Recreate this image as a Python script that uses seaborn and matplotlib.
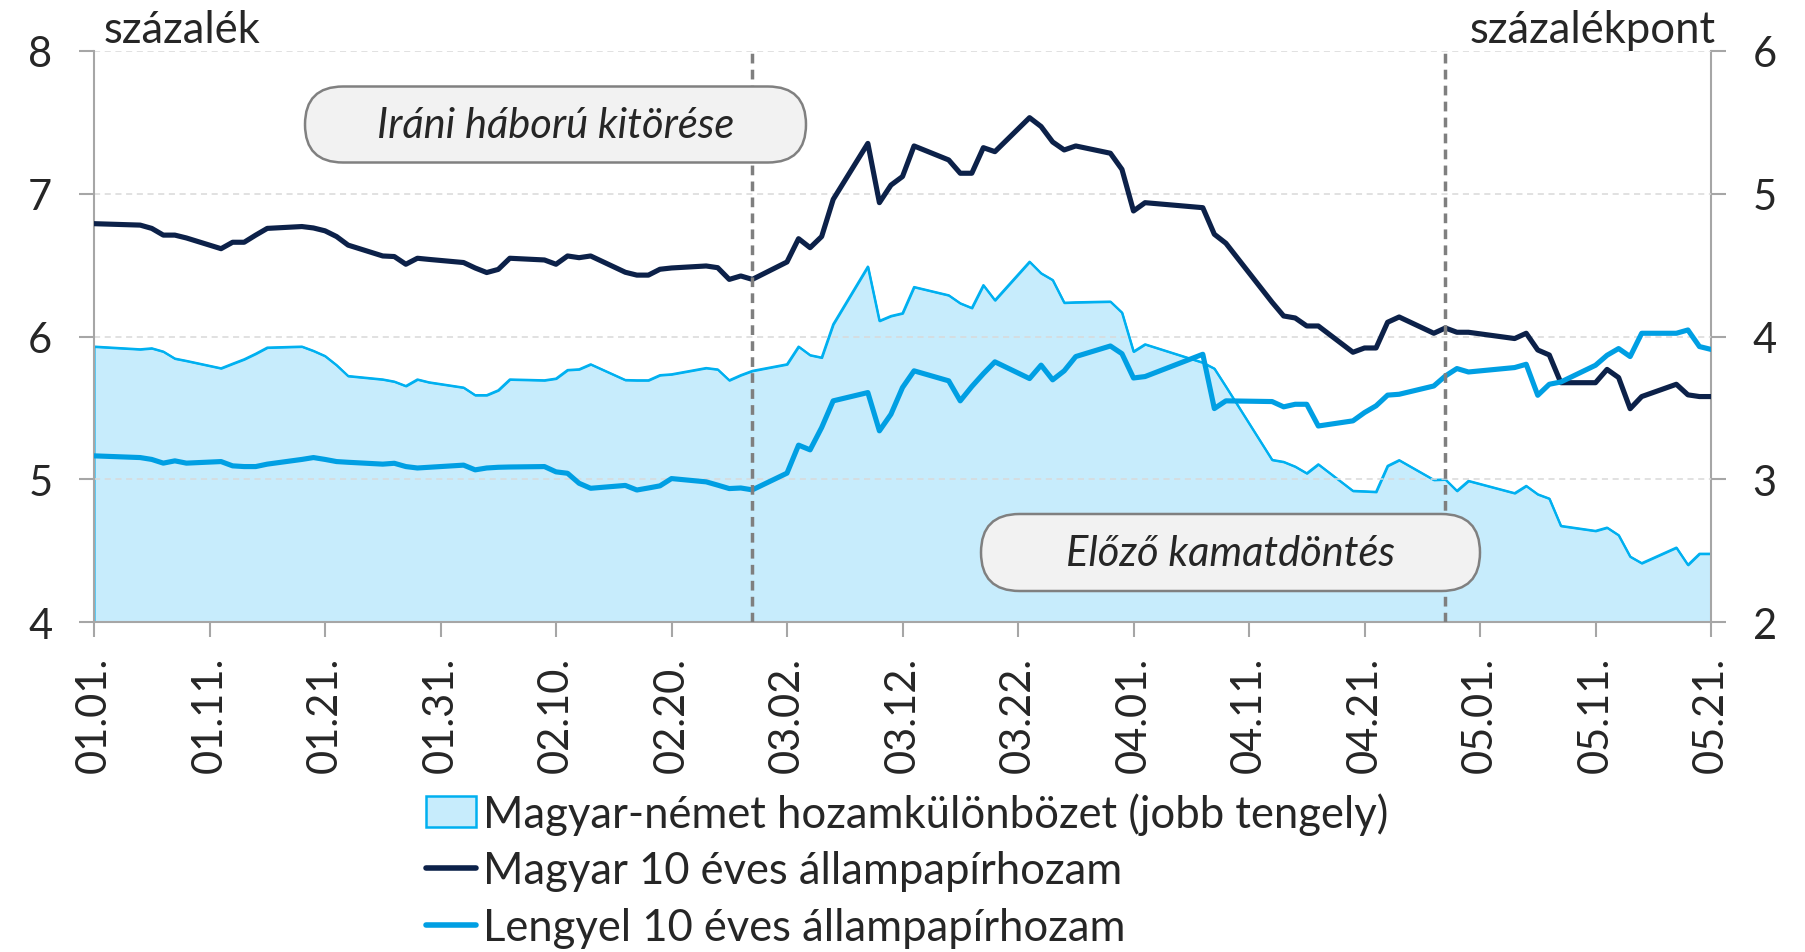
import matplotlib
matplotlib.use("Agg")
import matplotlib.pyplot as plt
import matplotlib.dates as mdates
from matplotlib.patches import FancyBboxPatch, Patch
from matplotlib.lines import Line2D
import seaborn as sns
import pandas as pd

# ---------------- data ----------------
dates = [
    "01-01", "01-05", "01-06", "01-07", "01-08", "01-09", "01-12", "01-13", "01-14", "01-15", "01-16",
    "01-19", "01-20", "01-21", "01-22", "01-23", "01-26", "01-27", "01-28", "01-29", "01-30",
    "02-02", "02-03", "02-04", "02-05", "02-06", "02-09", "02-10", "02-11", "02-12", "02-13",
    "02-16", "02-17", "02-18", "02-19", "02-20", "02-23", "02-24", "02-25", "02-26", "02-27",
    "03-02", "03-03", "03-04", "03-05", "03-06", "03-09", "03-10", "03-11", "03-12", "03-13",
    "03-16", "03-17", "03-18", "03-19", "03-20", "03-23", "03-24", "03-25", "03-26", "03-27",
    "03-30", "03-31",
    "04-01", "04-02", "04-07", "04-08", "04-09", "04-13", "04-14", "04-15", "04-16", "04-17",
    "04-20", "04-21", "04-22", "04-23", "04-24", "04-27", "04-28", "04-29", "04-30",
    "05-04", "05-05", "05-06", "05-07", "05-08", "05-11", "05-12", "05-13", "05-14", "05-15",
    "05-18", "05-19", "05-20", "05-21",
]
year = "2026"

hu_yield = [
    6.79, 6.78, 6.757, 6.71, 6.71, 6.69, 6.615, 6.66, 6.66, 6.71, 6.757, 6.77, 6.76, 6.74, 6.70, 6.64,
    6.564, 6.56, 6.506, 6.548, 6.54,
    6.518, 6.48, 6.448, 6.47, 6.548, 6.536, 6.506, 6.564, 6.552, 6.564, 6.45, 6.43, 6.43, 6.471, 6.48,
    6.494, 6.482, 6.40, 6.424, 6.40,
    6.522, 6.685, 6.622, 6.70, 6.96, 7.352, 6.937, 7.06, 7.12, 7.334, 7.236, 7.143, 7.143, 7.322, 7.294,
    7.532, 7.47, 7.362, 7.306, 7.334, 7.283, 7.17,
    6.879, 6.937, 6.902, 6.716, 6.653, 6.24, 6.144, 6.13, 6.074, 6.074, 5.89, 5.92, 5.92, 6.10, 6.137,
    6.023, 6.06, 6.03, 6.03,
    5.986, 6.023, 5.906, 5.871, 5.677, 5.677, 5.77, 5.713, 5.495, 5.58, 5.666, 5.592, 5.58, 5.58,
]

pl_yield = [
    5.165, 5.153, 5.14, 5.114, 5.13, 5.114, 5.125, 5.095, 5.09, 5.09, 5.107, 5.14, 5.153, 5.14, 5.125,
    5.12, 5.107, 5.113, 5.09, 5.08, 5.085,
    5.10, 5.067, 5.08, 5.085, 5.087, 5.09, 5.053, 5.043, 4.973, 4.938, 4.958, 4.926, 4.94, 4.955, 5.006,
    4.983, 4.96, 4.936, 4.94, 4.927,
    5.044, 5.24, 5.207, 5.363, 5.55, 5.608, 5.34, 5.456, 5.643, 5.76, 5.69, 5.55, 5.65, 5.74, 5.823,
    5.706, 5.80, 5.697, 5.76, 5.86, 5.934, 5.88,
    5.71, 5.72, 5.876, 5.496, 5.55, 5.545, 5.508, 5.526, 5.526, 5.374, 5.41, 5.468, 5.515, 5.59, 5.596,
    5.654, 5.724, 5.776, 5.752,
    5.783, 5.806, 5.589, 5.666, 5.682, 5.799, 5.869, 5.916, 5.86, 6.023, 6.023, 6.046, 5.93, 5.91,
]

hu_de_spread = [
    3.93, 3.911, 3.918, 3.895, 3.846, 3.83, 3.778, 3.81, 3.841, 3.88, 3.923, 3.93, 3.90, 3.864, 3.80,
    3.724, 3.70, 3.685, 3.654, 3.70, 3.68,
    3.643, 3.59, 3.59, 3.624, 3.70, 3.694, 3.706, 3.766, 3.771, 3.806, 3.696, 3.694, 3.694, 3.73, 3.736,
    3.78, 3.77, 3.694, 3.73, 3.76,
    3.806, 3.93, 3.87, 3.853, 4.086, 4.49, 4.11, 4.144, 4.163, 4.347, 4.289, 4.233, 4.20, 4.36, 4.254,
    4.524, 4.443, 4.396, 4.237, 4.24, 4.245, 4.168,
    3.895, 3.946, 3.818, 3.776, 3.65, 3.137, 3.123, 3.09, 3.043, 3.106, 2.92, 2.917, 2.913, 3.095, 3.135,
    2.997, 3.00, 2.92, 2.99,
    2.904, 2.955, 2.896, 2.866, 2.675, 2.64, 2.663, 2.61, 2.46, 2.414, 2.523, 2.402, 2.48, 2.48,
]

events = ["2026-02-27", "2026-04-28"]
event_labels = ["Iráni háború kitörése", "Előző kamatdöntés"]
legend_labels = [
    "Magyar-német hozamkülönbözet (jobb tengely)",
    "Magyar 10 éves állampapírhozam",
    "Lengyel 10 éves állampapírhozam",
]
left_title = "százalék"
right_title = "százalékpont"
x_start, x_end = "2026-01-01", "2026-05-21"

df = pd.DataFrame({
    "date": pd.to_datetime([f"{year}-{d}" for d in dates]),
    "hu": hu_yield,
    "pl": pl_yield,
    "spread": hu_de_spread,
})

# ---------------- style ----------------
sns.set_style("white")
plt.rcParams["font.family"] = ["Lato", "DejaVu Sans"]
FS = 30
FS_TEXT = 31.4

C_HU = "#0c2149"
C_PL = "#009fe3"
C_SP = "#00b0f0"
C_FILL = "#c7ecfc"
C_AX = "#a6a6a6"
C_GRID = "#d9d9d9"

W, H, DPI = 1806, 953, 100
fig = plt.figure(figsize=(W / DPI, H / DPI), dpi=DPI)
L, R, T, B = 94, 1711, 51.8, 623.3
ax = fig.add_axes([L / W, 1 - B / H, (R - L) / W, (B - T) / H])
ax2 = ax.twinx()
ax.set_zorder(ax2.get_zorder() + 1)
ax.patch.set_visible(False)

# spread area (right axis)
ax2.fill_between(df["date"], 2, df["spread"], facecolor=C_FILL, edgecolor=C_SP, linewidth=1.5, zorder=1)
sns.lineplot(data=df, x="date", y="spread", ax=ax2, color=C_SP, linewidth=1.6, zorder=2)

# yields (left axis)
sns.lineplot(data=df, x="date", y="hu", ax=ax, color=C_HU, linewidth=3.7, zorder=3)
sns.lineplot(data=df, x="date", y="pl", ax=ax, color=C_PL, linewidth=3.7, zorder=3)

for ev in events:
    ax.axvline(pd.Timestamp(ev), color="#7f7f7f", linewidth=2.5, linestyle=(0, (2.8, 1.8)), zorder=4)

# axes
ax.set_xlim(pd.Timestamp(x_start), pd.Timestamp(x_end))
ax.set_ylim(4, 8)
ax2.set_ylim(2, 6)
ax.set_yticks([4, 5, 6, 7, 8])
ax2.set_yticks([2, 3, 4, 5, 6])
ax.set_xticks(pd.date_range(x_start, x_end, freq="10D"))
ax.xaxis.set_major_formatter(mdates.DateFormatter("%m.%d."))
ax.set_xlabel("")
ax.set_ylabel("")
ax2.set_ylabel("")

ax.yaxis.grid(True, color=C_GRID, linestyle=(0, (4, 3)), linewidth=1.1)
ax.xaxis.grid(False)
ax2.grid(False)

for s in ["top", "right"]:
    ax.spines[s].set_visible(False)
for s in ["top", "left", "bottom"]:
    ax2.spines[s].set_visible(False)
for sp in [ax.spines["left"], ax.spines["bottom"], ax2.spines["right"]]:
    sp.set_color(C_AX)
    sp.set_linewidth(1.5)

ax.tick_params(axis="y", which="major", direction="out", length=11, width=1.5, color=C_AX,
               labelsize=FS, pad=19, left=True)
ax2.tick_params(axis="y", which="major", direction="out", length=11, width=1.5, color=C_AX,
                labelsize=FS, pad=19, right=True)
ax.tick_params(axis="x", which="major", direction="out", length=11, width=1.5, color=C_AX,
               labelsize=FS, pad=13, bottom=True, labelrotation=90)

# axis unit titles
fig.text(104 / W, 1 - 43 / H, left_title, fontsize=FS_TEXT, ha="left", va="baseline")
fig.text(1716 / W, 1 - 43 / H, right_title, fontsize=FS_TEXT, ha="right", va="baseline")

# annotation pills (pixel-based layout, in inches)
boxes = [(305, 87.5, 806, 163.5), (981, 515, 1480, 592)]
for (x0, y0, x1, y1), txt in zip(boxes, event_labels):
    bx, by = x0 / DPI, (H - y1) / DPI
    bw, bh = (x1 - x0) / DPI, (y1 - y0) / DPI
    patch = FancyBboxPatch((bx, by), bw, bh,
                           boxstyle=f"round,pad=0,rounding_size={bh / 2}",
                           transform=fig.dpi_scale_trans, facecolor="#f2f2f2",
                           edgecolor="#808080", linewidth=1.8, zorder=5)
    fig.add_artist(patch)
    fig.text((x0 + x1) / 2 / W, 1 - (y0 + y1) / 2 / H, txt, fontsize=FS, style="italic",
             ha="center", va="center", zorder=6)

# legend
handles = [
    Patch(facecolor=C_FILL, edgecolor=C_SP, linewidth=1.8),
    Line2D([], [], color=C_HU, linewidth=4),
    Line2D([], [], color=C_PL, linewidth=4),
]
fig.legend(handles, legend_labels, loc="upper left", bbox_to_anchor=(426 / W, 1 - 793 / H),
           frameon=False, fontsize=FS_TEXT, handlelength=1.15, handleheight=0.7, handletextpad=0.15,
           labelspacing=0.36, borderpad=0, borderaxespad=0)

fig.savefig("out.png", dpi=DPI)
